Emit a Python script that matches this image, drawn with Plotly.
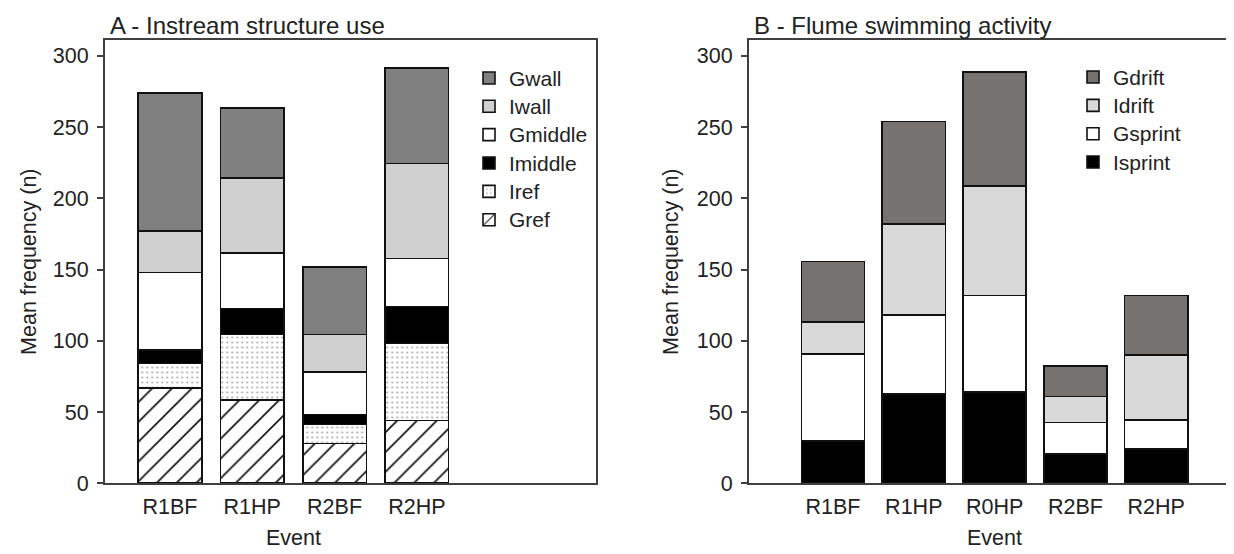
import plotly.graph_objects as go

# ---------------- data ----------------
events_a = ["R1BF", "R1HP", "R2BF", "R2HP"]
gref = [67, 58.3, 28, 44]
iref = [17, 46, 13.2, 54.2]
imiddle = [9.5, 18.3, 7, 26]
gmiddle = [54.5, 39.2, 30, 33.7]
iwall = [29, 52.5, 26.1, 66.6]
gwall = [97, 49.2, 47.5, 67.1]

events_b = ["R1BF", "R1HP", "R0HP", "R2BF", "R2HP"]
isprint = [29.6, 62.6, 64.2, 20.7, 24.1]
gsprint = [61.3, 55.6, 67.7, 22.1, 20.5]
idrift = [22.5, 63.9, 76.6, 18.0, 45.4]
gdrift = [42.2, 71.8, 80.4, 21.4, 41.9]

y_ticks = [0, 50, 100, 150, 200, 250, 300]

# ---------------- style ----------------
FONT = "Liberation Sans, Arial, sans-serif"
TXT = "#222222"
FRAME = "#404040"
W, H = 1234, 554
FS = 21.5

xa = list(range(len(events_a)))
xb = list(range(len(events_b)))

fig = go.Figure()
outline = dict(color="#111111", width=1.6)

def add_bar(x, y, name, axes, legend, color, width, pattern=None):
    marker = dict(color=color, line=outline)
    if pattern:
        marker["pattern"] = pattern
    label = '<span style="font-size:21px">' + name + '</span>'
    fig.add_trace(go.Bar(x=x, y=y, name=label, marker=marker, width=width,
                         xaxis=axes[0], yaxis=axes[1], legend=legend))

# panel A (bottom to top)
add_bar(xa, gref, "Gref", ("x", "y"), "legend", "white", 0.772,
        dict(shape="/", size=14, solidity=0.12, fgcolor="#111111",
             bgcolor="white", fillmode="replace"))
add_bar(xa, iref, "Iref", ("x", "y"), "legend", "white", 0.772,
        dict(shape=".", size=5, solidity=0.12, fgcolor="#a0a0a0",
             bgcolor="white", fillmode="replace"))
add_bar(xa, imiddle, "Imiddle", ("x", "y"), "legend", "#000000", 0.772)
add_bar(xa, gmiddle, "Gmiddle", ("x", "y"), "legend", "#ffffff", 0.772)
add_bar(xa, iwall, "Iwall", ("x", "y"), "legend", "#d0d0d0", 0.772)
add_bar(xa, gwall, "Gwall", ("x", "y"), "legend", "#808080", 0.772)

# panel B
add_bar(xb, isprint, "Isprint", ("x2", "y2"), "legend2", "#000000", 0.783)
add_bar(xb, gsprint, "Gsprint", ("x2", "y2"), "legend2", "#ffffff", 0.783)
add_bar(xb, idrift, "Idrift", ("x2", "y2"), "legend2", "#d9d9d9", 0.783)
add_bar(xb, gdrift, "Gdrift", ("x2", "y2"), "legend2", "#767270", 0.783)

ydom = [1 - 486.7 / H, 1 - 32.7 / H]
yrange = [0, 311.2]

common_x = dict(showline=True, mirror=True, linecolor=FRAME, linewidth=1.5,
                ticks="", showgrid=False, zeroline=False,
                tickfont=dict(size=FS, color=TXT, family=FONT),
                ticklabelstandoff=3)
common_y = dict(showline=True, mirror=True, linecolor=FRAME, linewidth=1.5,
                ticks="outside", ticklen=6, tickwidth=1.5, tickcolor=FRAME,
                showgrid=False, zeroline=False, tickvals=y_ticks,
                range=yrange, domain=ydom, ticklabelstandoff=4,
                tickfont=dict(size=FS, color=TXT, family=FONT))

leg_common = dict(font=dict(size=19.5, color=TXT, family=FONT),
                  bgcolor="rgba(0,0,0,0)", borderwidth=0,
                  traceorder="reversed",
                  xanchor="left", yanchor="top")

fig.update_layout(
    width=W, height=H, autosize=False,
    margin=dict(l=0, r=0, t=0, b=0),
    paper_bgcolor="white", plot_bgcolor="white",
    barmode="stack", showlegend=True,
    font=dict(family=FONT, color=TXT, size=FS),
    xaxis=dict(common_x, domain=[96.7 / W, 588.3 / W], range=[-0.793, 5.18],
               tickvals=xa, ticktext=events_a),
    yaxis=dict(common_y, anchor="x"),
    xaxis2=dict(common_x, domain=[740.7 / W, 1231.7 / W], range=[-1.043, 5.033],
                tickvals=xb, ticktext=events_b, anchor="y2"),
    yaxis2=dict(common_y, anchor="x2"),
    legend=dict(leg_common, x=461 / W, y=1 - 52 / H),
    legend2=dict(leg_common, x=1065 / W, y=1 - 51 / H),
)

ann_font = dict(size=FS, color=TXT, family=FONT)
title_font = dict(size=24, color=TXT, family=FONT)
fig.add_annotation(text="A - Instream structure use", xref="paper", yref="paper",
                   x=100 / W, y=1 - 18 / H, xanchor="left", yanchor="middle",
                   showarrow=False, font=title_font)
fig.add_annotation(text="B - Flume swimming activity", xref="paper", yref="paper",
                   x=744 / W, y=1 - 18 / H, xanchor="left", yanchor="middle",
                   showarrow=False, font=title_font)
fig.add_annotation(text="Event", xref="x", yref="paper", x=1.5, y=1 - 543 / H,
                   xanchor="center", yanchor="middle", showarrow=False, font=ann_font)
fig.add_annotation(text="Event", xref="x2", yref="paper", x=2, y=1 - 543 / H,
                   xanchor="center", yanchor="middle", showarrow=False, font=ann_font)
fig.add_annotation(text="Mean frequency (n)", xref="paper", yref="paper",
                   x=21 / W, y=1 - 260 / H, textangle=-90, xanchor="center",
                   yanchor="middle", showarrow=False, font=ann_font)
fig.add_annotation(text="Mean frequency (n)", xref="paper", yref="paper",
                   x=663 / W, y=1 - 260 / H, textangle=-90, xanchor="center",
                   yanchor="middle", showarrow=False, font=ann_font)

fig.write_html("out.html")
